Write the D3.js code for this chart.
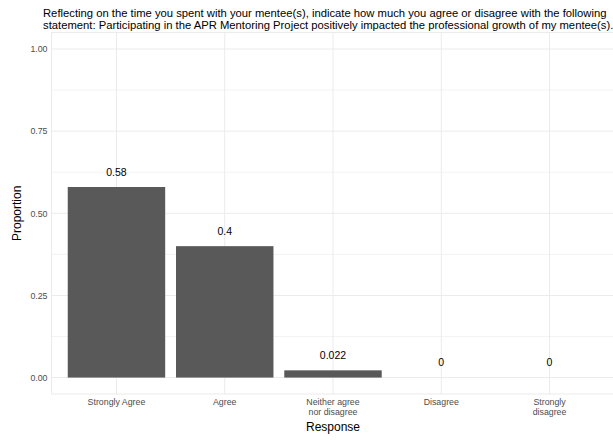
<!DOCTYPE html>
<html>
<head>
<meta charset="utf-8">
<script src="https://cdnjs.cloudflare.com/ajax/libs/d3/7.8.5/d3.min.js"></script>
<style>
html,body{margin:0;padding:0;background:#fff;}
svg{display:block;font-family:"Liberation Sans",Arial,sans-serif;}
</style>
</head>
<body>
<svg id="chart" width="613" height="440"></svg>
<script>
const categories = ["Strongly Agree", "Agree", "Neither agree\nnor disagree", "Disagree", "Strongly\ndisagree"];
const proportions = [0.58, 0.4, 0.022, 0, 0];
const labels = ["0.58", "0.4", "0.022", "0", "0"];
const yTicks = [0, 0.25, 0.5, 0.75, 1.0];
const yMinorTicks = [0.125, 0.375, 0.625, 0.875];
const titleLines = [
  "Reflecting on the time you spent with your mentee(s), indicate how much you agree or disagree with the following",
  "statement: Participating in the APR Mentoring Project positively impacted the professional growth of my mentee(s)."
];
const xTitle = "Response";
const yTitle = "Proportion";

const svg = d3.select("#chart");
const panel = {left: 51.5, right: 614.5, top: 32.6, bottom: 394};

const x = d3.scaleBand()
  .domain(categories)
  .range([panel.left, panel.right])
  .paddingInner(0.1)
  .paddingOuter(0.15);

const y = d3.scaleLinear()
  .domain([-0.05, 1.05])
  .range([panel.bottom, panel.top]);

const grid = "#ebebeb";

// panel border
svg.append("rect")
  .attr("x", panel.left).attr("y", panel.top)
  .attr("width", panel.right - panel.left).attr("height", panel.bottom - panel.top)
  .attr("fill", "none").attr("stroke", grid).attr("stroke-width", 1);

// minor grid
svg.append("g").selectAll("line").data(yMinorTicks).join("line")
  .attr("x1", panel.left).attr("x2", panel.right)
  .attr("y1", d => y(d)).attr("y2", d => y(d))
  .attr("stroke", grid).attr("stroke-width", 0.6);

// major grid
svg.append("g").selectAll("line").data(yTicks).join("line")
  .attr("x1", panel.left).attr("x2", panel.right)
  .attr("y1", d => y(d)).attr("y2", d => y(d))
  .attr("stroke", grid).attr("stroke-width", 1);

svg.append("g").selectAll("line").data(categories).join("line")
  .attr("x1", d => x(d) + x.bandwidth() / 2).attr("x2", d => x(d) + x.bandwidth() / 2)
  .attr("y1", panel.top).attr("y2", panel.bottom)
  .attr("stroke", grid).attr("stroke-width", 1);

// bars
const data = categories.map((c, i) => ({c, v: proportions[i], l: labels[i]}));
svg.append("g").selectAll("rect").data(data).join("rect")
  .attr("x", d => x(d.c))
  .attr("width", x.bandwidth())
  .attr("y", d => y(d.v))
  .attr("height", d => y(0) - y(d.v))
  .attr("fill", "#595959");

// bar labels
svg.append("g").selectAll("text").data(data).join("text")
  .attr("x", d => x(d.c) + x.bandwidth() / 2)
  .attr("y", d => y(d.v) - 11.5)
  .attr("text-anchor", "middle")
  .attr("font-size", "10.5px")
  .attr("fill", "#000")
  .text(d => d.l);

// y axis
const yAxis = d3.axisLeft(y).tickValues(yTicks).tickFormat(d3.format(".2f")).tickSize(0).tickPadding(4);
const gy = svg.append("g").attr("transform", `translate(${panel.left},0)`).call(yAxis);
gy.select(".domain").remove();
gy.selectAll("text").attr("font-size", "8.8px").attr("fill", "#4d4d4d").attr("font-family", "Liberation Sans, Arial, sans-serif");

// x axis
const xAxis = d3.axisBottom(x).tickSize(0).tickPadding(0).tickFormat("");
const gx = svg.append("g").attr("transform", `translate(0,${panel.bottom})`).call(xAxis);
gx.select(".domain").remove();
gx.selectAll(".tick").each(function(d) {
  const t = d3.select(this).append("text")
    .attr("text-anchor", "middle")
    .attr("font-size", "8.8px")
    .attr("fill", "#4d4d4d")
    .attr("font-family", "Liberation Sans, Arial, sans-serif");
  d.split("\n").forEach((line, i) => {
    t.append("tspan").attr("x", 0).attr("y", 10.5 + i * 10).text(line);
  });
});

// axis titles
svg.append("text")
  .attr("x", (panel.left + panel.right) / 2).attr("y", 431)
  .attr("text-anchor", "middle").attr("font-size", "12px").attr("fill", "#000")
  .text(xTitle);

svg.append("text")
  .attr("transform", `translate(21,${(panel.top + panel.bottom) / 2}) rotate(-90)`)
  .attr("text-anchor", "middle").attr("font-size", "12px").attr("fill", "#000")
  .text(yTitle);

// title
svg.append("g").selectAll("text").data(titleLines).join("text")
  .attr("x", 43).attr("y", (d, i) => 17 + i * 11.5)
  .attr("font-size", "11.25px").attr("fill", "#000")
  .text(d => d);
</script>
</body>
</html>
